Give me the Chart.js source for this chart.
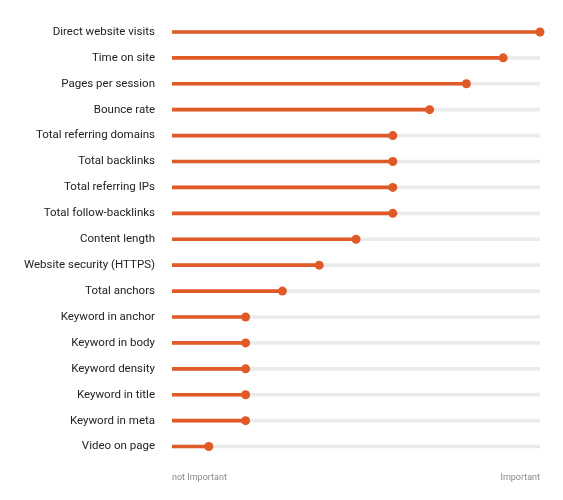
<!DOCTYPE html>
<html>
<head>
<meta charset="utf-8">
<script src="https://cdn.jsdelivr.net/npm/chart.js@4"></script>
<style>
    html, body { margin: 0; padding: 0; background: #fff; }
    #wrap { width: 563px; height: 500px; }
</style>
</head>
<body>
<div id="wrap"><canvas id="chart"></canvas></div>
<script>
const factors = [
    'Direct website visits', 'Time on site', 'Pages per session', 'Bounce rate',
    'Total referring domains', 'Total backlinks', 'Total referring IPs',
    'Total follow-backlinks', 'Content length', 'Website security (HTTPS)',
    'Total anchors', 'Keyword in anchor', 'Keyword in body', 'Keyword density',
    'Keyword in title', 'Keyword in meta', 'Video on page'
];
const importance = [10, 9, 8, 7, 6, 6, 6, 6, 5, 4, 3, 2, 2, 2, 2, 2, 1];
const maxImportance = 10;
const scaleLabels = ['not Important', 'Important'];

const orange = '#e05a28';

document.addEventListener('DOMContentLoaded', function () {
    const ctx = document.getElementById('chart');

    new Chart(ctx, {
        type: 'bar',
        data: {
            labels: factors,
            datasets: [
                {
                    // dots at the end of each stick
                    type: 'line',
                    data: importance,
                    showLine: false,
                    pointRadius: 4.5,
                    pointHoverRadius: 4.5,
                    pointBackgroundColor: orange,
                    pointBorderWidth: 0,
                    clip: false,
                    order: 0
                },
                {
                    data: importance,
                    backgroundColor: orange,
                    barThickness: 3,
                    grouped: false,
                    order: 1
                },
                {
                    // grey track behind
                    data: factors.map(() => maxImportance),
                    backgroundColor: '#ebebeb',
                    barThickness: 3,
                    grouped: false,
                    order: 2
                }
            ]
        },
        options: {
            indexAxis: 'y',
            responsive: true,
            maintainAspectRatio: false,
            animation: false,
            layout: { padding: { top: 19, right: 23, left: 0, bottom: 0 } },
            plugins: {
                legend: { display: false },
                tooltip: { enabled: false }
            },
            scales: {
                x: {
                    min: 0,
                    max: maxImportance,
                    grid: { display: false, drawTicks: false },
                    border: { display: false },
                    ticks: {
                        stepSize: maxImportance,
                        align: 'inner',
                        padding: 13,
                        color: '#8a8a8a',
                        font: { family: 'Roboto', size: 9 },
                        callback: function (value) {
                            return value === 0 ? scaleLabels[0] : scaleLabels[1];
                        }
                    },
                    afterFit: function (scale) { scale.height = 40.5; }
                },
                y: {
                    grid: { display: false, drawTicks: false },
                    border: { display: false },
                    ticks: {
                        padding: 17,
                        color: '#222',
                        font: { family: 'Roboto', size: 11.5 }
                    },
                    afterFit: function (scale) {
                        scale.width = 172;
                        // don't let the label padding push the plot area down
                        scale.paddingTop = 0;
                        scale.paddingBottom = 0;
                    }
                }
            }
        }
    });
});
</script>
</body>
</html>
